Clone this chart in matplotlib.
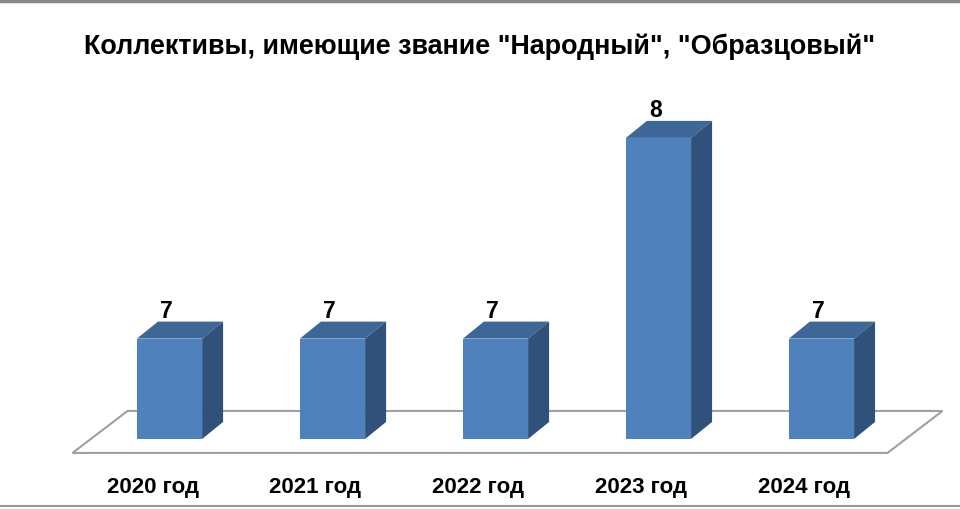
import matplotlib.pyplot as plt
from matplotlib.patches import Polygon
from matplotlib.lines import Line2D

# data
years = ['2020 год', '2021 год', '2022 год', '2023 год', '2024 год']
values = [7, 7, 7, 8, 7]
title = 'Коллективы, имеющие звание "Народный", "Образцовый"'

front_col = '#4f81bd'
top_col = '#3d6797'
side_col = '#30527a'

plt.rcParams['font.family'] = ['Liberation Sans', 'DejaVu Sans']

fig = plt.figure(figsize=(9.6, 5.1), dpi=100)
ax = fig.add_axes([0, 0, 1, 1])
ax.set_xlim(-1.04, 4.85)
base = 6.5
ax.set_ylim(6.151, 8.692)
ax.axis('off')

# 3d depth in pixel units -> data units
def px2data(dxp, dyp):
    inv = ax.transData.inverted()
    x0, y0 = inv.transform((0, 0))
    x1, y1 = inv.transform((dxp, dyp))
    return x1 - x0, y1 - y0

dx, dy = px2data(21, 17)
w = 0.40
n = len(years)
last = n - 1

# floor
fl_x, fr_y = px2data(-97, -14)
fr_x, _ = px2data(66, 0)
bl_x, b_y = px2data(-42, 28)
br_x, _ = px2data(121, 0)
floor = Polygon([(0 + fl_x, base + fr_y), (last + fr_x, base + fr_y),
                 (last + br_x, base + b_y), (0 + bl_x, base + b_y)],
                closed=True, facecolor='white', edgecolor='#a0a0a0', lw=1.5, zorder=1)
ax.add_patch(floor)

x = list(range(n))
ax.bar(x, [v - base for v in values], bottom=base, width=w, color=front_col, zorder=3)
for xi, v in zip(x, values):
    l, r = xi - w / 2, xi + w / 2
    top = Polygon([(l, v), (r, v), (r + dx, v + dy), (l + dx, v + dy)],
                  closed=True, facecolor=top_col, edgecolor='none', zorder=3)
    side = Polygon([(r, base), (r + dx, base + dy), (r + dx, v + dy), (r, v)],
                   closed=True, facecolor=side_col, edgecolor='none', zorder=3)
    ax.add_patch(top)
    ax.add_patch(side)
    ax.text(xi - 0.02, v + dy, str(v), ha='center', va='bottom',
            fontsize=16.5, fontweight='bold', zorder=4)

lx, ly = px2data(-17, -48)
for xi, lab in zip(x, years):
    ax.text(xi + lx, base + ly, lab, ha='center', va='center',
            fontsize=16, fontweight='bold')

fig.text(0.5, 1 - 47 / 510, title, ha='center', va='center',
         fontsize=19.4, fontweight='bold')

# border lines top and bottom
fig.add_artist(Line2D([0, 1], [1 - 1.5 / 510, 1 - 1.5 / 510], color='#888888', lw=2.5))
fig.add_artist(Line2D([0, 1], [3 / 510, 3 / 510], color='#999999', lw=1.5))

fig.savefig('out.png', dpi=100)
